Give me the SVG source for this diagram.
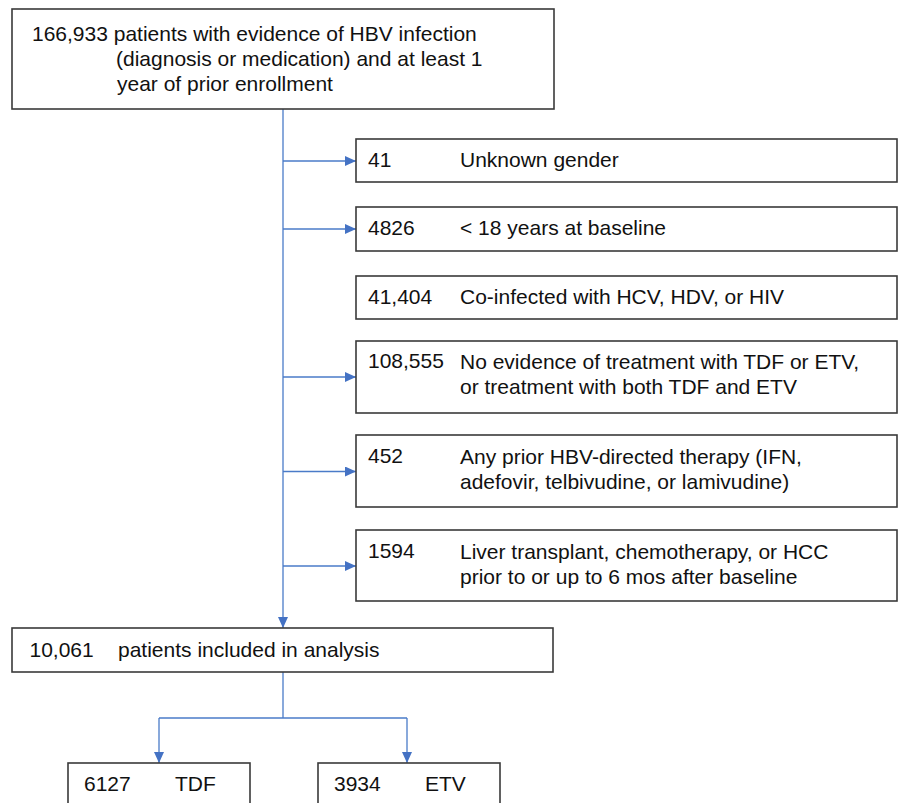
<svg xmlns="http://www.w3.org/2000/svg" width="900" height="803" viewBox="0 0 900 803">
<style>
.box{fill:#fff;stroke:#3a3a3a;stroke-width:1.6}
.t{font-family:"Liberation Sans",Arial,Helvetica,sans-serif;font-size:21px;fill:#111}
.c{fill:none;stroke:#4a7bc8;stroke-width:1.3}
</style>
<defs>
<marker id="ah" markerUnits="userSpaceOnUse" markerWidth="11" markerHeight="10" refX="11" refY="5" orient="auto">
<path d="M0,0 L11,5 L0,10 z" fill="#4472C4"/>
</marker>
</defs>
<rect width="900" height="803" fill="#fff"/>
<g id="connectors">
<path class="c" d="M283,109 V628" marker-end="url(#ah)"/>
<path class="c" d="M283,161 H356" marker-end="url(#ah)"/>
<path class="c" d="M283,229 H356" marker-end="url(#ah)"/>
<path class="c" d="M283,377 H356" marker-end="url(#ah)"/>
<path class="c" d="M283,471.5 H356" marker-end="url(#ah)"/>
<path class="c" d="M283,566 H356" marker-end="url(#ah)"/>
<path class="c" d="M283,672 V718"/>
<path class="c" d="M159,718 H407"/>
<path class="c" d="M159,718 V763" marker-end="url(#ah)"/>
<path class="c" d="M407,718 V763" marker-end="url(#ah)"/>
</g>
<g id="start">
<rect class="box" x="12" y="9" width="542" height="100"/>
<text class="t" x="32" y="41">166,933 patients with evidence of HBV infection</text>
<text class="t" x="116" y="65.5">(diagnosis or medication) and at least 1</text>
<text class="t" x="117" y="90.5">year of prior enrollment</text>
</g>
<g id="ex1">
<rect class="box" x="356" y="139" width="541" height="43"/>
<text class="t" x="368" y="167">41</text>
<text class="t" x="460" y="167">Unknown gender</text>
</g>
<g id="ex2">
<rect class="box" x="356" y="207" width="541" height="44"/>
<text class="t" x="368" y="235">4826</text>
<text class="t" x="460" y="235">&lt; 18 years at baseline</text>
</g>
<g id="ex3">
<rect class="box" x="356" y="276" width="541" height="43"/>
<text class="t" x="368" y="304">41,404</text>
<text class="t" x="460" y="304">Co-infected with HCV, HDV, or HIV</text>
</g>
<g id="ex4">
<rect class="box" x="356" y="341" width="541" height="72"/>
<text class="t" x="368" y="368">108,555</text>
<text class="t" x="460" y="369">No evidence of treatment with TDF or ETV,</text>
<text class="t" x="460" y="394">or treatment with both TDF and ETV</text>
</g>
<g id="ex5">
<rect class="box" x="356" y="435" width="541" height="72"/>
<text class="t" x="368" y="463">452</text>
<text class="t" x="460" y="464">Any prior HBV-directed therapy (IFN,</text>
<text class="t" x="460" y="489">adefovir, telbivudine, or lamivudine)</text>
</g>
<g id="ex6">
<rect class="box" x="356" y="530" width="541" height="71"/>
<text class="t" x="368" y="558">1594</text>
<text class="t" x="460" y="559">Liver transplant, chemotherapy, or HCC</text>
<text class="t" x="460" y="584">prior to or up to 6 mos after baseline</text>
</g>
<g id="included">
<rect class="box" x="12" y="628" width="541" height="44"/>
<text class="t" x="29.5" y="657">10,061</text>
<text class="t" x="118" y="657">patients included in analysis</text>
</g>
<g id="tdf">
<rect class="box" x="68" y="763" width="182" height="60"/>
<text class="t" x="84" y="791">6127</text>
<text class="t" x="175" y="791">TDF</text>
</g>
<g id="etv">
<rect class="box" x="318" y="763" width="182" height="60"/>
<text class="t" x="334" y="791">3934</text>
<text class="t" x="425" y="791">ETV</text>
</g>
</svg>
